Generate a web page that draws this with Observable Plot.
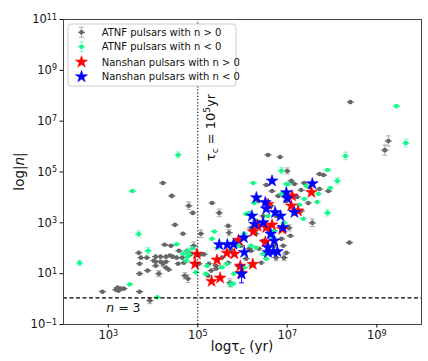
<!DOCTYPE html>
<html><head><meta charset="utf-8">
<script src="https://cdn.jsdelivr.net/npm/d3@7"></script>
<script src="https://cdn.jsdelivr.net/npm/@observablehq/plot@0.6"></script>
<style>html,body{margin:0;background:#fff;} #chart svg{display:block;}</style>
</head><body><div id="chart"></div>
<script>
// Values are log10(tau_c / yr), log10|n|, and half error (log units)
const xTicks = [3, 5, 7, 9];
const yTicks = [-1, 1, 3, 5, 7, 9, 11];
const tauLine = 5;      // tau_c = 10^5 yr
const nLine = 0.05;     // dashed line labelled n = 3

const atnfPos = [
[2.87,0.29,0],[3.17,0.37,0],[3.21,0.45,0],[3.28,0.41,0],[3.35,0.41,0],[3.23,0.33,0],[3.70,0.29,0],[3.93,-0.06,0.12],
[3.68,1.82,0],[3.73,1.63,0],[3.86,1.63,0],[3.70,1.39,0],[4.02,1.51,0],[3.70,1.00,0],[4.22,4.57,0],[4.42,4.06,0],
[4.80,3.67,0.15],[4.89,3.39,0],[5.32,3.78,0],[5.48,3.39,0.15],[4.49,2.92,0],[4.67,2.57,0],[5.07,2.57,0.15],[4.91,2.10,0.15],
[4.26,2.14,0],[4.06,1.67,0],[4.17,1.67,0],[4.29,1.67,0],[4.38,1.71,0],[4.44,1.67,0],[4.53,1.63,0],[4.65,1.63,0],
[4.06,1.47,0],[4.17,1.47,0],[4.29,1.47,0],[4.22,1.39,0.1],[4.06,1.31,0],[4.29,1.24,0],[4.35,1.16,0],[4.13,1.00,0.12],
[4.56,1.39,0],[4.69,1.43,0],[4.71,0.92,0.12],[4.78,0.80,0.15],[5.07,1.76,0],[5.14,1.76,0],[5.03,1.39,0],[5.25,1.39,0],
[5.30,1.12,0],[5.41,1.20,0],[5.23,0.92,0],[5.68,2.88,0],[5.70,2.61,0.12],[5.72,0.65,0.15],[4.85,1.78,0],[5.54,1.63,0],
[5.74,1.94,0],[5.68,1.43,0],[5.97,2.10,0],[6.04,2.41,0],[6.15,1.98,0],[6.19,2.80,0],[6.30,2.57,0],[6.19,1.90,0],
[6.37,1.98,0],[6.46,2.29,0],[6.53,4.49,0],[6.66,4.25,0],[6.57,5.67,0],[6.84,5.59,0],[7.00,5.04,0.12],[7.09,4.65,0],
[7.16,4.53,0],[7.38,4.57,0],[7.49,4.41,0],[7.31,4.29,0],[7.72,4.92,0],[7.81,4.88,0],[7.92,4.25,0],[7.72,4.33,0],
[7.47,3.78,0],[7.56,3.00,0.15],[8.39,2.22,0],[9.26,6.22,0.2],[9.18,5.86,0.2],[8.41,7.75,0],[7.13,3.47,0],[7.04,2.80,0.12],
[7.07,2.49,0],[6.91,2.10,0],[6.98,1.82,0],[6.93,1.63,0.12],[6.75,1.63,0.12],[6.71,2.10,0],[6.87,2.37,0],[6.64,3.67,0],
[6.46,3.27,0],[6.30,3.08,0],[6.75,3.27,0],[6.98,3.86,0],[7.22,4.02,0],[6.60,2.69,0],[6.42,1.43,0],[6.08,1.59,0],
[5.90,1.31,0],[5.41,1.31,0],[7.31,3.47,0],[6.80,4.06,0],[6.35,3.86,0],[5.88,2.29,0],[3.88,1.12,0],[4.40,2.10,0],
[4.76,1.90,0],[4.58,1.90,0]
];
const atnfNeg = [
[2.36,1.42,0.1],[3.54,4.25,0],[3.68,2.56,0.12],[3.89,1.90,0.12],[3.48,0.58,0],[4.10,0.07,0],[4.56,5.67,0.12],[4.53,2.16,0],
[4.77,1.90,0],[4.80,1.77,0],[4.74,1.51,0],[4.96,1.05,0],[5.37,2.66,0],[5.45,2.03,0],[5.18,0.99,0],[5.65,1.38,0],
[5.54,1.25,0],[5.74,0.57,0.12],[6.87,5.05,0.12],[6.24,4.57,0],[6.98,4.53,0],[6.26,3.78,0],[6.08,3.35,0],[6.04,2.57,0],
[5.90,2.10,0],[6.19,2.10,0],[6.30,2.02,0],[5.79,0.61,0],[6.71,2.69,0],[6.93,3.00,0],[7.90,5.08,0],[8.12,4.65,0.12],
[7.96,4.37,0],[7.70,4.14,0],[7.67,3.82,0],[7.38,3.94,0],[7.43,4.45,0],[7.02,4.53,0],[7.27,3.71,0],[7.36,3.16,0],
[7.90,3.39,0.12],[8.30,5.63,0.15],[9.44,7.59,0],[9.65,6.14,0.15],[5.32,2.37,0],[5.21,1.31,0],[6.38,2.88,0],[6.46,1.78,0],
[6.69,2.41,0],[6.04,1.24,0],[5.81,1.00,0],[6.87,4.14,0],[6.15,3.39,0],[6.57,3.27,0],[6.53,1.59,0],[6.19,1.31,0],
[4.78,1.67,0],[4.67,1.78,0],[4.88,2.00,0]
];
const nanshanPos = [
[4.98,1.77,0],[4.94,1.38,0],[5.43,1.54,0],[5.31,0.70,0],[5.50,0.83,0],[5.65,1.81,0],[5.82,1.78,0],[5.91,2.32,0],
[5.95,1.30,0],[5.97,1.01,0],[6.23,1.37,0],[6.24,2.65,0],[6.34,2.88,0],[6.51,2.25,0],[6.53,2.82,0],[6.66,2.92,0],
[6.57,3.73,0],[6.89,2.75,0],[7.11,4.06,0],[7.09,3.67,0],[7.24,3.47,0],[7.54,4.20,0]
];
const nanshanNeg = [
[5.48,2.14,0],[5.66,2.14,0],[5.80,2.16,0],[6.03,2.42,0],[6.04,1.84,0],[5.98,0.99,0.35],[6.21,3.27,0],[6.31,3.99,0],
[6.27,2.95,0],[6.46,3.01,0],[6.51,3.80,0],[6.53,3.55,0],[6.63,2.56,0],[6.57,2.03,0],[6.57,1.84,0],[6.71,2.29,0],
[6.69,1.87,0],[6.73,3.41,0],[6.85,3.27,0],[6.90,2.82,0],[6.98,4.19,0],[7.00,3.97,0],[7.16,3.41,0],[7.56,4.54,0],
[6.66,4.65,0],[6.78,1.87,0]
];
const legendLabels = ["ATNF pulsars with n > 0","ATNF pulsars with n < 0","Nanshan pulsars with n > 0","Nanshan pulsars with n < 0"];

const rows = a => a.map(([x, y, e]) => ({x, y, e}));
const G = rows(atnfPos), N = rows(atnfNeg), R = rows(nanshanPos), B = rows(nanshanNeg);

const pointSym = {draw(ctx, size) {
  const r = Math.sqrt(size / Math.PI);
  ctx.moveTo(r, 0); ctx.arc(0, 0, r, 0, 2 * Math.PI);
  ctx.rect(-r * 1.55, -0.6, r * 3.1, 1.2);
}};
const capSym = {draw(ctx, size) {
  const w = Math.sqrt(size) / 2;
  ctx.moveTo(-w, 0); ctx.lineTo(w, 0);
}};
function errMarks(data, color, opacity = 1) {
  const d = data.filter(p => p.e > 0);
  return [
    Plot.ruleX(d, {x: "x", y1: p => p.y - p.e, y2: p => p.y + p.e, stroke: color, strokeOpacity: opacity, strokeWidth: 1}),
    Plot.dot(d, {x: "x", y: p => p.y - p.e, symbol: capSym, r: 2.8, stroke: color, strokeOpacity: opacity, strokeWidth: 1}),
    Plot.dot(d, {x: "x", y: p => p.y + p.e, symbol: capSym, r: 2.8, stroke: color, strokeOpacity: opacity, strokeWidth: 1})
  ];
}
const GRAY = "#666666", GREEN = "#17f78c", RED = "#ff0000", BLUE = "#0000ff";

const plot = Plot.plot({
  width: 428, height: 361,
  marginLeft: 63, marginRight: 7, marginTop: 19, marginBottom: 37,
  style: {fontFamily: "'DejaVu Sans', sans-serif", fontSize: "11.5px", color: "#111", background: "#fff"},
  x: {domain: [2, 10]},
  y: {domain: [-1, 11]},
  marks: [
    ...errMarks(G, "#aaaaaa"),
    Plot.dot(G, {x: "x", y: "y", symbol: pointSym, r: 2.3, fill: GRAY}),
    ...errMarks(N, GREEN, 0.5),
    Plot.dot(N, {x: "x", y: "y", symbol: pointSym, r: 2.3, fill: GREEN}),
    ...errMarks(R, RED),
    Plot.dot(R, {x: "x", y: "y", symbol: "star", r: 3.7, fill: RED, stroke: RED, strokeWidth: 0.6}),
    ...errMarks(B, BLUE),
    Plot.dot(B, {x: "x", y: "y", symbol: "star", r: 3.7, fill: BLUE, stroke: BLUE, strokeWidth: 0.6}),
    Plot.ruleX([tauLine], {stroke: "#000", strokeDasharray: "1.2,2", strokeWidth: 1.1}),
    Plot.ruleY([nLine], {stroke: "#000", strokeDasharray: "4,2.5", strokeWidth: 1.2}),
    Plot.frame({stroke: "#444"}),
    Plot.axisX({ticks: xTicks, tickFormat: d => "10^" + d, tickSize: 3.5, tickPadding: 3, label: null}),
    Plot.axisY({ticks: yTicks, tickFormat: d => "10^" + d, tickSize: 3.5, tickPadding: 3, label: null})
  ]
});
document.getElementById("chart").appendChild(plot);

const svg = d3.select(plot);
const xs = plot.scale("x"), ys = plot.scale("y");

// superscript tick labels
svg.selectAll("text").each(function () {
  const t = this.textContent;
  const m = /^10\^(-?\d+)$/.exec(t);
  if (!m) return;
  const s = d3.select(this);
  s.text("");
  s.append("tspan").text("10");
  s.append("tspan").attr("dy", "-0.45em").attr("font-size", "8px").text(m[1].replace("-", "\u2212"));
});

const font = "'DejaVu Sans', sans-serif";
// x label
const [fx0, fx1] = xs.range, [fy0, fy1] = ys.range;
const xl = svg.append("text").attr("x", (fx0 + fx1) / 2).attr("y", 351)
  .attr("text-anchor", "middle").attr("font-family", font).attr("font-size", "13.5px").attr("fill", "#111");
xl.append("tspan").text("log\u03C4");
xl.append("tspan").attr("font-style", "italic").attr("font-size", "10px").attr("dy", "3").text("c");
xl.append("tspan").attr("dy", "-3").text(" (yr)");

// y label
const yl = svg.append("text").attr("transform", `translate(24,${(fy0 + fy1) / 2}) rotate(-90)`)
  .attr("text-anchor", "middle").attr("font-family", font).attr("font-size", "13.5px").attr("fill", "#111");
yl.append("tspan").text("log|");
yl.append("tspan").attr("font-style", "italic").text("n");
yl.append("tspan").text("|");

// tau_c annotation
const ta = svg.append("text").attr("transform", `translate(${xs.apply(5.3) + 4},${ys.apply(6.73)}) rotate(-90)`)
  .attr("text-anchor", "middle").attr("font-family", font).attr("font-size", "13px").attr("fill", "#111");
ta.append("tspan").text("\u03C4");
ta.append("tspan").attr("font-size", "9px").attr("dy", "3").text("c");
ta.append("tspan").attr("dy", "-3").text(" = 10");
ta.append("tspan").attr("font-size", "9px").attr("dy", "-5").text("5");
ta.append("tspan").attr("dy", "5").text("yr");

// n = 3 annotation
const na = svg.append("text").attr("x", xs.apply(3.35)).attr("y", ys.apply(-0.37)).attr("dy", "0.35em")
  .attr("text-anchor", "middle").attr("font-family", font).attr("font-size", "12.5px").attr("fill", "#111");
na.append("tspan").attr("font-style", "italic").text("n");
na.append("tspan").text(" = 3");

// legend
const lg = svg.append("g").attr("transform", "translate(68,24)");
lg.append("rect").attr("width", 168).attr("height", 62).attr("rx", 3)
  .attr("fill", "#fff").attr("fill-opacity", 0.9).attr("stroke", "#cccccc");
const rowsY = [8.3, 22.7, 38, 52.7];
const symX = 13.5;
function errGlyph(y, col, barCol, op) {
  lg.append("line").attr("x1", symX).attr("x2", symX).attr("y1", y - 5).attr("y2", y + 5).attr("stroke", barCol).attr("stroke-opacity", op);
  [y - 5, y + 5].forEach(yy => lg.append("line").attr("x1", symX - 2.5).attr("x2", symX + 2.5).attr("y1", yy).attr("y2", yy).attr("stroke", barCol).attr("stroke-opacity", op));
  lg.append("path").attr("transform", `translate(${symX},${y})`).attr("fill", col)
    .attr("d", d3.symbol(pointSym, 2.2 * 2.2 * Math.PI)());
}
errGlyph(rowsY[0], GRAY, "#aaaaaa", 1);
errGlyph(rowsY[1], GREEN, GREEN, 0.5);
[[rowsY[2], RED], [rowsY[3], BLUE]].forEach(([y, c]) =>
  lg.append("path").attr("transform", `translate(${symX},${y})`).attr("fill", c).attr("stroke", c).attr("stroke-width", 0.6)
    .attr("d", d3.symbol(d3.symbolStar, 44)()));
legendLabels.forEach((t, i) => lg.append("text").attr("x", 33.7).attr("y", rowsY[i]).attr("dy", "0.35em")
  .attr("text-anchor", "start")
  .attr("font-family", font).attr("font-size", "10px").attr("fill", "#111").text(t));
</script>
</body></html>
